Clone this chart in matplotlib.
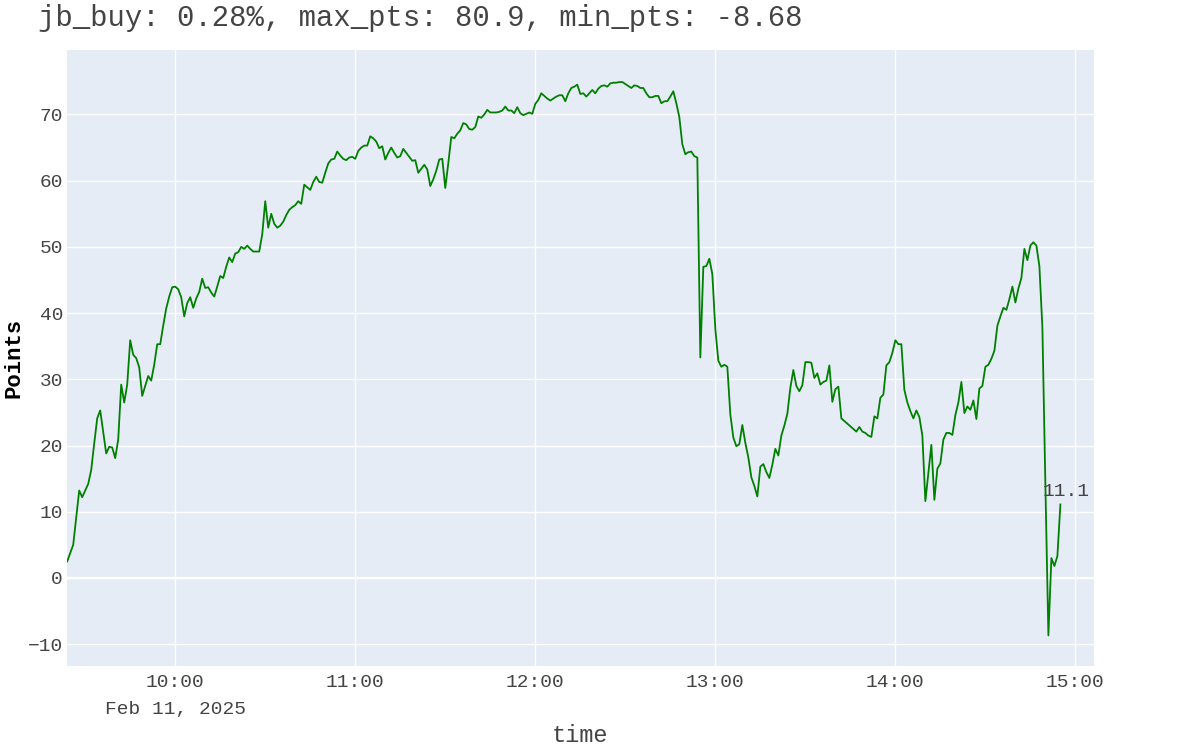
import matplotlib
matplotlib.use("Agg")
import matplotlib.pyplot as plt
import matplotlib.dates as mdates
import pandas as pd

plt.rcParams['font.family'] = ['Liberation Mono', 'DejaVu Sans Mono']

day = "2025-02-11"
title = "jb_buy: 0.28%, max_pts: 80.9, min_pts: -8.68"

# minute stamps and points
times = [
    "09:24", "09:26", "09:28", "09:29", "09:31", "09:32", "09:33", "09:34", "09:35", "09:36",
    "09:37", "09:38", "09:39", "09:40", "09:41", "09:42", "09:43", "09:44", "09:45", "09:46",
    "09:47", "09:48", "09:49", "09:50", "09:51", "09:52", "09:53", "09:54", "09:55", "09:56",
    "09:57", "09:58", "09:59", "10:00", "10:01", "10:02", "10:03", "10:04", "10:05", "10:06",
    "10:07", "10:08", "10:09", "10:10", "10:11", "10:12", "10:13", "10:14", "10:15", "10:16",
    "10:17", "10:18", "10:19", "10:20", "10:21", "10:22", "10:23", "10:24", "10:25", "10:26",
    "10:27", "10:28", "10:29", "10:30", "10:31", "10:32", "10:33", "10:34", "10:35", "10:36",
    "10:37", "10:38", "10:39", "10:40", "10:41", "10:42", "10:43", "10:44", "10:45", "10:46",
    "10:47", "10:48", "10:49", "10:50", "10:51", "10:52", "10:53", "10:54", "10:55", "10:56",
    "10:57", "10:58", "10:59", "11:00", "11:01", "11:02", "11:03", "11:04", "11:05", "11:06",
    "11:07", "11:08", "11:09", "11:10", "11:11", "11:12", "11:13", "11:14", "11:15", "11:16",
    "11:17", "11:18", "11:19", "11:20", "11:21", "11:22", "11:23", "11:24", "11:25", "11:26",
    "11:27", "11:28", "11:29", "11:30", "11:31", "11:32", "11:33", "11:34", "11:35", "11:36",
    "11:37", "11:38", "11:39", "11:40", "11:41", "11:42", "11:43", "11:44", "11:45", "11:46",
    "11:47", "11:48", "11:49", "11:50", "11:51", "11:52", "11:53", "11:54", "11:55", "11:56",
    "11:57", "11:58", "11:59", "12:00", "12:01", "12:02", "12:03", "12:04", "12:05", "12:06",
    "12:07", "12:08", "12:09", "12:10", "12:11", "12:12", "12:13", "12:14", "12:15", "12:16",
    "12:17", "12:18", "12:19", "12:20", "12:21", "12:22", "12:23", "12:24", "12:25", "12:26",
    "12:27", "12:28", "12:29", "12:30", "12:31", "12:32", "12:33", "12:34", "12:35", "12:36",
    "12:37", "12:38", "12:39", "12:40", "12:41", "12:42", "12:43", "12:44", "12:45", "12:46",
    "12:47", "12:48", "12:49", "12:50", "12:51", "12:52", "12:53", "12:54", "12:55", "12:56",
    "12:57", "12:58", "12:59", "13:00", "13:01", "13:02", "13:03", "13:04", "13:05", "13:06",
    "13:07", "13:08", "13:09", "13:10", "13:11", "13:12", "13:13", "13:14", "13:15", "13:16",
    "13:17", "13:18", "13:19", "13:20", "13:21", "13:22", "13:23", "13:24", "13:25", "13:26",
    "13:27", "13:28", "13:29", "13:30", "13:31", "13:32", "13:33", "13:34", "13:35", "13:36",
    "13:37", "13:38", "13:39", "13:40", "13:41", "13:42", "13:43", "13:44", "13:45", "13:46",
    "13:47", "13:48", "13:49", "13:50", "13:51", "13:52", "13:53", "13:54", "13:55", "13:56",
    "13:57", "13:58", "13:59", "14:00", "14:01", "14:02", "14:03", "14:04", "14:05", "14:06",
    "14:07", "14:08", "14:09", "14:10", "14:11", "14:12", "14:13", "14:14", "14:15", "14:16",
    "14:17", "14:18", "14:19", "14:20", "14:21", "14:22", "14:23", "14:24", "14:25", "14:26",
    "14:27", "14:28", "14:29", "14:30", "14:31", "14:32", "14:33", "14:34", "14:35", "14:36",
    "14:37", "14:38", "14:39", "14:40", "14:41", "14:42", "14:43", "14:44", "14:45", "14:46",
    "14:47", "14:48", "14:49", "14:50", "14:51", "14:52", "14:53", "14:54", "14:55",
]

points = [
    2.5, 5.0, 13.2, 12.2, 14.2, 16.3, 20.3, 24.1, 25.3, 22.0,
    18.8, 19.8, 19.7, 18.1, 20.9, 29.2, 26.5, 29.2, 35.9, 33.7,
    33.2, 31.8, 27.5, 29.0, 30.5, 29.8, 32.2, 35.3, 35.3, 38.1,
    40.7, 42.5, 43.9, 44.0, 43.6, 42.4, 39.5, 41.5, 42.4, 40.8,
    42.2, 43.2, 45.2, 43.8, 43.9, 43.1, 42.5, 44.0, 45.6, 45.3,
    47.0, 48.4, 47.7, 49.0, 49.2, 50.0, 49.7, 50.2, 49.7, 49.3,
    49.3, 49.3, 51.9, 56.9, 52.9, 55.0, 53.5, 52.9, 53.2, 53.8,
    54.8, 55.6, 56.0, 56.3, 56.9, 56.5, 59.4, 59.0, 58.6, 59.8,
    60.6, 59.8, 59.7, 61.2, 62.6, 63.2, 63.3, 64.4, 63.8, 63.3,
    63.1, 63.5, 63.6, 63.3, 64.5, 65.0, 65.3, 65.3, 66.7, 66.4,
    65.9, 64.9, 65.2, 63.2, 64.2, 65.0, 64.2, 63.5, 63.7, 64.8,
    64.2, 63.6, 63.0, 63.1, 61.2, 61.8, 62.4, 61.7, 59.2, 60.2,
    61.5, 63.2, 63.3, 58.9, 62.6, 66.6, 66.4, 67.1, 67.6, 68.7,
    68.5, 67.8, 67.7, 68.1, 69.7, 69.5, 70.0, 70.7, 70.3, 70.3,
    70.3, 70.4, 70.6, 71.2, 70.6, 70.6, 70.2, 71.1, 70.2, 69.9,
    70.1, 70.3, 70.1, 71.6, 72.2, 73.2, 72.8, 72.4, 72.1, 72.4,
    72.7, 72.9, 72.9, 72.0, 73.2, 74.0, 74.2, 74.5, 73.1, 73.2,
    72.7, 73.2, 73.7, 73.2, 73.9, 74.3, 74.4, 74.2, 74.7, 74.8,
    74.8, 74.9, 74.9, 74.6, 74.3, 74.0, 74.4, 74.3, 74.0, 74.0,
    73.2, 72.6, 72.6, 72.8, 72.8, 71.7, 72.0, 72.0, 72.7, 73.5,
    71.7, 69.6, 65.5, 64.0, 64.3, 64.4, 63.7, 63.5, 33.3, 47.0,
    47.1, 48.2, 45.9, 37.6, 32.8, 31.9, 32.2, 31.9, 24.7, 21.2,
    19.9, 20.2, 23.1, 20.4, 18.2, 15.2, 13.9, 12.3, 16.8, 17.2,
    16.0, 15.1, 17.1, 19.5, 18.5, 21.5, 23.0, 24.8, 28.7, 31.4,
    29.0, 28.2, 29.1, 32.6, 32.6, 32.5, 30.2, 30.9, 29.2, 29.6,
    29.8, 32.1, 26.6, 28.5, 28.9, 24.1, 23.7, 23.3, 22.9, 22.5,
    22.1, 22.8, 22.1, 21.9, 21.5, 21.3, 24.4, 24.1, 27.2, 27.7,
    32.1, 32.6, 34.0, 35.9, 35.3, 35.3, 28.4, 26.5, 25.2, 24.1,
    25.3, 24.3, 21.5, 11.6, 15.8, 20.1, 11.8, 16.5, 17.3, 20.9,
    21.9, 21.9, 21.6, 24.6, 26.5, 29.6, 24.9, 25.9, 25.4, 26.8,
    24.0, 28.6, 29.0, 31.9, 32.2, 33.1, 34.3, 38.1, 39.5, 40.8,
    40.5, 42.1, 44.0, 41.6, 43.7, 45.3, 49.7, 48.0, 50.2, 50.7,
    50.2, 47.1, 37.8, 14.0, -8.68, 3.0, 1.8, 3.3, 11.1,
]

hour_ticks = ["10:00", "11:00", "12:00", "13:00", "14:00", "15:00"]
y_ticks = [-10, 0, 10, 20, 30, 40, 50, 60, 70]

x = pd.to_datetime([day + " " + t for t in times])
tick_x = pd.to_datetime([day + " " + t for t in hour_ticks])

fig = plt.figure(figsize=(12, 7.5), dpi=100)
ax = fig.add_axes([0.056, 0.112, 0.856, 0.821])
ax.set_facecolor("#E5ECF6")
for s in ax.spines.values():
    s.set_visible(False)

ax.plot(x, points, color="green", lw=1.3, zorder=3)

ax.set_xlim(pd.Timestamp(day + " 09:24"), pd.Timestamp(day + " 15:06:20"))
ax.set_ylim(-13.3, 79.7)

ax.set_xticks(tick_x)
ax.xaxis.set_major_formatter(mdates.DateFormatter("%H:%M"))
ax.set_yticks(y_ticks)
ax.grid(True, color="white", lw=1.0, zorder=0)
ax.set_axisbelow(True)
ax.axhline(0, color="white", lw=1.6, zorder=1)
ax.tick_params(length=0, labelsize=14, labelcolor="#444444")
ax.tick_params(axis="x", pad=6)
ax.tick_params(axis="y", pad=3)

# date line under the first tick
ax.annotate("Feb 11, 2025", xy=(tick_x[0], 0), xycoords=("data", "axes fraction"),
            xytext=(0, -31), textcoords="offset points", ha="center", va="center",
            fontsize=14, color="#444444")

# axis titles placed in figure coords
fig.text(580 / 1200, 1 - 736 / 750, "time", fontsize=17, color="#444444",
         ha="center", va="center")
fig.text(14 / 1200, 1 - 358 / 750, "Points", fontsize=16, fontweight="bold",
         color="black", rotation=90, ha="center", va="center")

# last value label
ax.annotate(f"{points[-1]:.1f}", xy=(x[-1], points[-1]), xytext=(4, 3),
            textcoords="offset points", ha="center", va="bottom",
            fontsize=14, color="#444444")

fig.text(0.032, 0.976, title, fontsize=20.8, color="#444444", ha="left", va="center")

fig.savefig("out.png", dpi=100)
